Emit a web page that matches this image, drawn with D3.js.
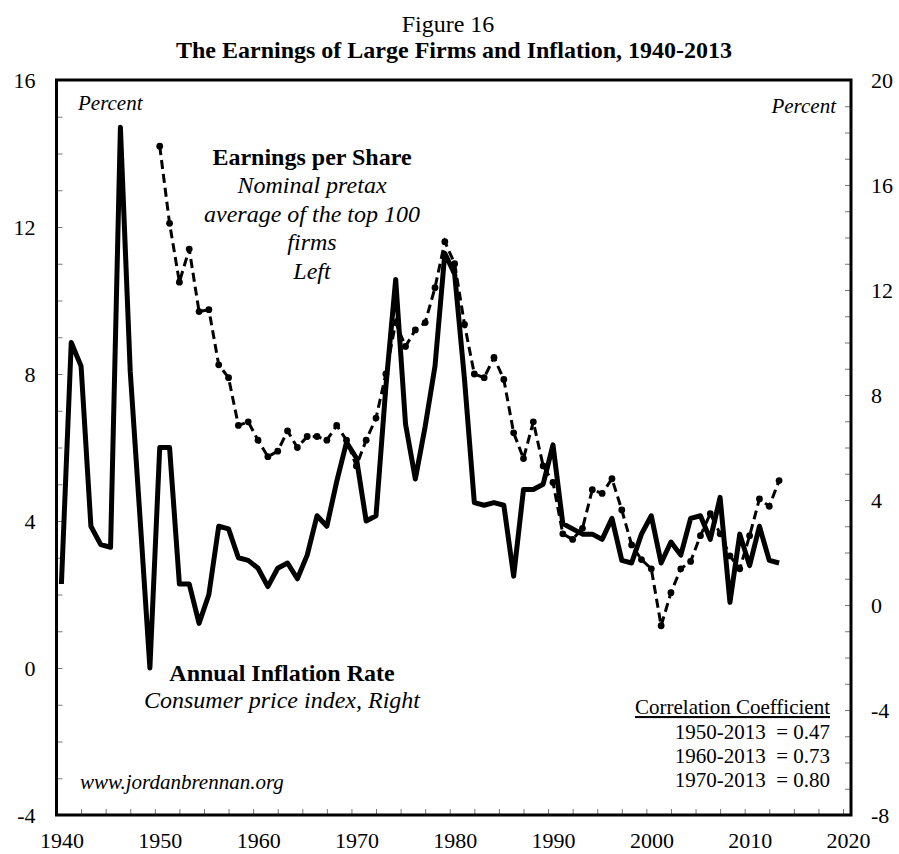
<!DOCTYPE html>
<html>
<head>
<meta charset="utf-8">
<script src="https://cdn.jsdelivr.net/npm/d3@7"></script>
<style>
  body { margin: 0; background: #fff; }
  svg text { font-family: "Liberation Serif", "Times New Roman", serif; fill: #000; }
</style>
</head>
<body>
<div id="chart"></div>
<script>
// years for each series
const infYears = d3.range(1940, 2014);
const epsYears = d3.range(1950, 2014);

// annual inflation rate, CPI (right axis)
const inflation = [
  0.8, 10.0, 9.1, 3.0, 2.3, 2.2, 18.2, 8.9, 3.3, -2.4,
  6.0, 6.0, 0.8, 0.8, -0.7, 0.4, 3.0, 2.9, 1.8, 1.7,
  1.4, 0.7, 1.4, 1.6, 1.0, 1.9, 3.4, 3.0, 4.7, 6.2,
  5.6, 3.2, 3.4, 8.3, 12.4, 6.9, 4.8, 6.8, 9.1, 13.4,
  12.6, 8.6, 3.9, 3.8, 3.9, 3.8, 1.1, 4.4, 4.4, 4.6,
  6.1, 3.1, 2.9, 2.7, 2.7, 2.5, 3.3, 1.7, 1.6, 2.7,
  3.4, 1.6, 2.4, 1.9, 3.3, 3.4, 2.5, 4.1, 0.1, 2.7,
  1.5, 3.0, 1.7, 1.6
];

// earnings per share, top 100 firms (left axis)
const earnings = [
  14.2, 12.1, 10.5, 11.4, 9.7, 9.75, 8.25, 7.9, 6.6, 6.7,
  6.2, 5.75, 5.9, 6.45, 6.0, 6.3, 6.3, 6.2, 6.6, 6.2,
  5.5, 6.2, 6.8, 8.0, 9.4, 8.75, 9.2, 9.4, 10.35, 11.6,
  11.0, 9.35, 8.0, 7.9, 8.45, 7.85, 6.4, 5.7, 6.7, 5.5,
  5.05, 3.65, 3.5, 3.8, 4.85, 4.75, 5.15, 4.3, 3.35, 2.95,
  2.7, 1.15, 2.05, 2.7, 2.9, 3.6, 4.2, 3.65, 3.05, 2.7,
  3.6, 4.6, 4.4, 5.1
];

const leftTicks = [-4, 0, 4, 8, 12, 16];
const rightTicks = [-8, -4, 0, 4, 8, 12, 16, 20];
const xTicks = [1940, 1950, 1960, 1970, 1980, 1990, 2000, 2010, 2020];

const corrLabels = ["1950-2013", "1960-2013", "1970-2013"];
const corrValues = ["0.47", "0.73", "0.80"];

const W = 899, H = 854;
const plot = { left: 56.5, right: 851, top: 80, bottom: 815 };

const svg = d3.select("#chart").append("svg")
  .attr("width", W).attr("height", H);

const x = d3.scaleLinear().domain([1940, 2020]).range([plot.left, 843]);
const yL = d3.scaleLinear().domain([-4, 16]).range([plot.bottom, plot.top]);
const yR = d3.scaleLinear().domain([-8, 20]).range([plot.bottom, plot.top]);

// titles
svg.append("text").attr("x", 448).attr("y", 32)
  .attr("text-anchor", "middle").attr("font-size", 24).text("Figure 16");
svg.append("text").attr("x", 454).attr("y", 58)
  .attr("text-anchor", "middle").attr("font-size", 24).attr("font-weight", "bold")
  .text("The Earnings of Large Firms and Inflation, 1940-2013");

// axes, ticks point inwards
const tickStyle = g => {
  g.select(".domain").remove();
  g.selectAll(".tick line").attr("stroke", "#777").attr("stroke-width", 1);
  g.selectAll(".tick text").attr("font-size", 22)
    .attr("font-family", "Liberation Serif, Times New Roman, serif");
};

svg.append("g")
  .attr("transform", `translate(${plot.left},0)`)
  .call(d3.axisLeft(yL).tickValues(d3.range(-4, 17, 1)).tickSize(-6).tickPadding(21)
    .tickFormat(d => leftTicks.includes(d) ? d : ""))
  .call(tickStyle);

svg.append("g")
  .attr("transform", `translate(${plot.right},0)`)
  .call(d3.axisRight(yR).tickValues(d3.range(-8, 21, 1)).tickSize(-6).tickPadding(20)
    .tickFormat(d => rightTicks.includes(d) ? d : ""))
  .call(tickStyle);

svg.append("g")
  .attr("transform", `translate(0,${plot.bottom})`)
  .call(d3.axisBottom(x).tickValues(d3.range(1940, 2020.1, 2.5)).tickSize(-6).tickPadding(17)
    .tickFormat(d => xTicks.includes(d) ? d : ""))
  .call(tickStyle)
  .call(g => g.selectAll(".tick text").attr("dx", 5));

// frame
svg.append("rect")
  .attr("x", plot.left).attr("y", plot.top)
  .attr("width", plot.right - plot.left).attr("height", plot.bottom - plot.top)
  .attr("fill", "none").attr("stroke", "#000").attr("stroke-width", 3);

// points sit in the middle of each year
const px = yr => x(yr + 0.5);

const infData = infYears.map((yr, i) => ({ yr, v: inflation[i] }));
const epsData = epsYears.map((yr, i) => ({ yr, v: earnings[i] }));

svg.append("path")
  .datum(epsData)
  .attr("fill", "none").attr("stroke", "#000").attr("stroke-width", 3)
  .attr("stroke-dasharray", "9,5")
  .attr("d", d3.line().x(d => px(d.yr)).y(d => yL(d.v)));

svg.append("g").selectAll("circle")
  .data(epsData).enter().append("circle")
  .attr("cx", d => px(d.yr)).attr("cy", d => yL(d.v))
  .attr("r", 3.4).attr("fill", "#000");

svg.append("path")
  .datum(infData)
  .attr("fill", "none").attr("stroke", "#000").attr("stroke-width", 5)
  .attr("stroke-linejoin", "round")
  .attr("d", d3.line().x(d => px(d.yr)).y(d => yR(d.v)));

// annotations
svg.append("text").attr("x", 78).attr("y", 110)
  .attr("font-size", 21).attr("font-style", "italic").text("Percent");
svg.append("text").attr("x", 836).attr("y", 113).attr("text-anchor", "end")
  .attr("font-size", 21).attr("font-style", "italic").text("Percent");

const epsNote = ["Nominal pretax", "average of the top 100", "firms", "Left"];
svg.append("text").attr("x", 312).attr("y", 165).attr("text-anchor", "middle")
  .attr("font-size", 24).attr("font-weight", "bold").text("Earnings per Share");
svg.append("g").selectAll("text").data(epsNote).enter().append("text")
  .attr("x", 312).attr("y", (d, i) => 193 + i * 28.5).attr("text-anchor", "middle")
  .attr("font-size", 24).attr("font-style", "italic").text(d => d);

svg.append("text").attr("x", 282).attr("y", 681).attr("text-anchor", "middle")
  .attr("font-size", 24).attr("font-weight", "bold").text("Annual Inflation Rate");
svg.append("text").attr("x", 282).attr("y", 708).attr("text-anchor", "middle")
  .attr("font-size", 24).attr("font-style", "italic").text("Consumer price index, Right");

svg.append("text").attr("x", 80).attr("y", 789)
  .attr("font-size", 21).attr("font-style", "italic").text("www.jordanbrennan.org");

svg.append("text").attr("x", 830).attr("y", 714).attr("text-anchor", "end")
  .attr("font-size", 21).attr("text-decoration", "underline").text("Correlation Coefficient");
svg.append("g").selectAll("text").data(corrLabels).enter().append("text")
  .attr("x", 830).attr("y", (d, i) => 739 + i * 24).attr("text-anchor", "end")
  .attr("font-size", 21).attr("xml:space", "preserve")
  .text((d, i) => d + "  = " + corrValues[i]);
</script>
</body>
</html>
